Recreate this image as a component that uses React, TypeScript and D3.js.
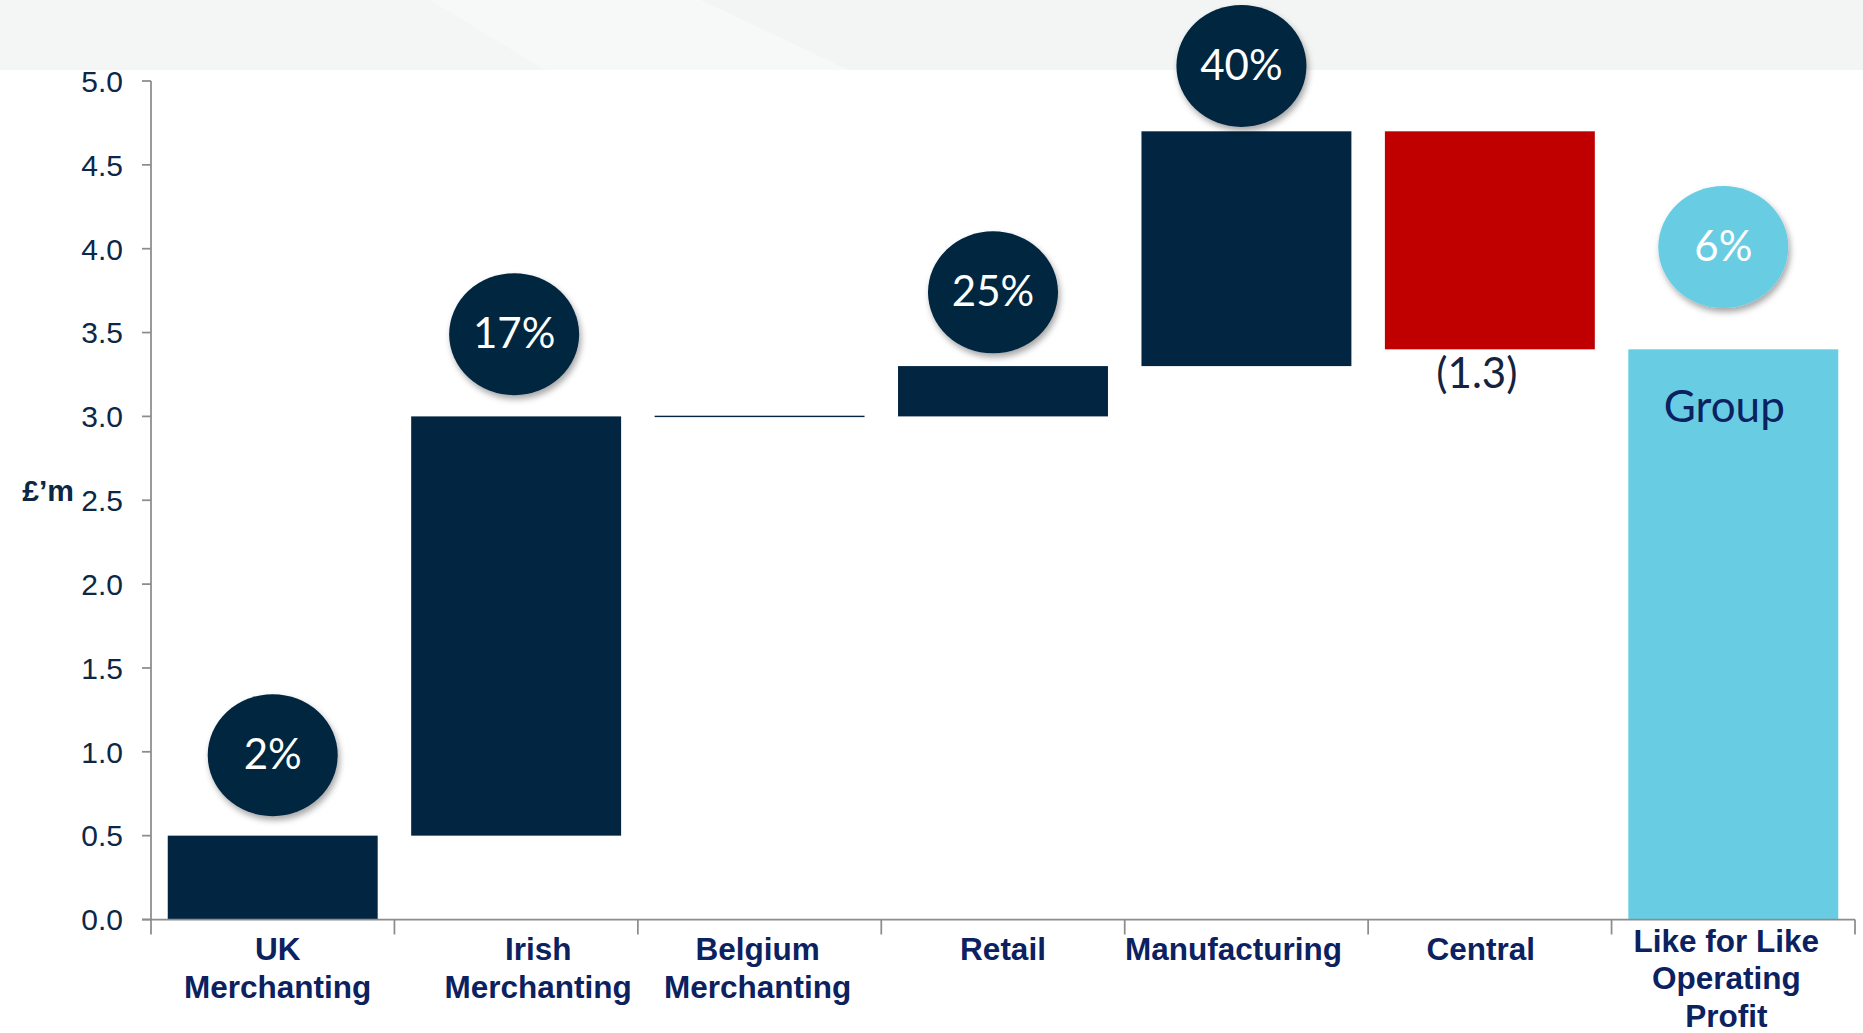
import React from "react";
import * as d3 from "d3";

// Operating profit bridge: segment contributions to like-for-like growth
const categories = [
  "UK Merchanting",
  "Irish Merchanting",
  "Belgium Merchanting",
  "Retail",
  "Manufacturing",
  "Central",
  "Like for Like Operating Profit",
];
const categoryLines = [
  ["UK", "Merchanting"],
  ["Irish", "Merchanting"],
  ["Belgium", "Merchanting"],
  ["Retail"],
  ["Manufacturing"],
  ["Central"],
  ["Like for Like", "Operating", "Profit"],
];
// £'m change per segment; the last category is the resulting total
const changes = [0.5, 2.5, 0.0, 0.3, 1.4, -1.3];
const growthLabels = ["2%", "17%", "", "25%", "40%", "", "6%"];
// level (in £'m) at which each growth badge sits
const badgeLevels = [0.98, 3.49, NaN, 3.74, 5.09, NaN, 4.01];
const yTicks = [0, 0.5, 1, 1.5, 2, 2.5, 3, 3.5, 4, 4.5, 5];
const totalName = "Group";
const yAxisTitle = "£’m";

const W = 1863;
const H = 1033;
const NAVY = "#022541";
const RED = "#c00000";
const SKY = "#68cde3";
const LABEL_BLUE = "#0c2160";
const TICK_TEXT = "#0d2747";
const AXIS = "#8c8c8c";
const ARIAL = "'Liberation Sans', Arial, sans-serif";
const HUMANIST = "Lato, 'Open Sans', sans-serif";

// small horizontal nudges of the text boxes relative to each category centre
const labelNudge = [5, 22, -2, 0, -13, -9, -7];
const badgeNudge = [0, -2, 0, -10, -5, 0, -10];

type Step = { name: string; start: number; end: number; kind: "up" | "down" | "total" };

export default function App() {
  const y = d3.scaleLinear().domain([0, 5]).range([919.5, 81]);
  const x = d3
    .scaleBand<string>()
    .domain(categories)
    .range([151, 1855])
    .paddingInner(0.1376)
    .paddingOuter(0.0688);

  const steps: Step[] = [];
  let run = 0;
  changes.forEach((c, i) => {
    steps.push({ name: categories[i], start: run, end: run + c, kind: c < 0 ? "down" : "up" });
    run += c;
  });
  steps.push({ name: categories[categories.length - 1], start: 0, end: run, kind: "total" });

  const fillFor = (k: Step["kind"]) => (k === "down" ? RED : k === "total" ? SKY : NAVY);
  const [x0, x1] = x.range();
  const step = x.step();
  const baseY = y(0);
  const mid = (name: string) => (x(name) ?? 0) + x.bandwidth() / 2;

  return (
    <svg
      width={W}
      height={H}
      viewBox={`0 0 ${W} ${H}`}
      style={{ position: "absolute", left: 0, top: 0, display: "block", background: "#fff" }}
    >
      <defs>
        <filter id="badgeShadow" x="-30%" y="-30%" width="160%" height="170%">
          <feDropShadow dx="2" dy="4" stdDeviation="3" floodColor="#000" floodOpacity="0.35" />
        </filter>
      </defs>

      {/* header band */}
      <rect x={0} y={0} width={W} height={70} fill="#f4f5f5" />
      <polygon points="430,0 545,70 849,70 701,0" fill="#f7f8f8" />
      <polygon points={`701,0 849,70 ${W},70 ${W},0`} fill="#f3f4f4" />

      {/* y axis */}
      <line x1={x0} x2={x0} y1={y(5)} y2={baseY} stroke={AXIS} strokeWidth={1.75} />
      {yTicks.map((t) => (
        <g key={t}>
          <line x1={x0 - 9} x2={x0} y1={y(t)} y2={y(t)} stroke={AXIS} strokeWidth={1.75} />
          <text
            x={123}
            y={y(t)}
            dy="0.36em"
            textAnchor="end"
            fontFamily={ARIAL}
            fontSize={30}
            fill={TICK_TEXT}
          >
            {t.toFixed(1)}
          </text>
        </g>
      ))}
      <text x={74} y={501} textAnchor="end" fontFamily={ARIAL} fontWeight="bold" fontSize={30} fill={TICK_TEXT}>
        {yAxisTitle}
      </text>

      {/* bars */}
      {steps.map((s) => {
        const top = y(Math.max(s.start, s.end));
        const bottom = y(Math.min(s.start, s.end));
        const flat = bottom - top < 1.4;
        return (
          <rect
            key={s.name}
            x={x(s.name)}
            y={flat ? top - 0.7 : top}
            width={x.bandwidth()}
            height={flat ? 1.4 : bottom - top}
            fill={fillFor(s.kind)}
          />
        );
      })}

      {/* x axis */}
      <line x1={x0 - 9} x2={x1} y1={baseY} y2={baseY} stroke={AXIS} strokeWidth={1.75} />
      {d3.range(categories.length + 1).map((i) => (
        <line
          key={i}
          x1={x0 + i * step}
          x2={x0 + i * step}
          y1={baseY}
          y2={baseY + 15}
          stroke={AXIS}
          strokeWidth={1.75}
        />
      ))}
      {categoryLines.map((lines, i) => {
        const cx = mid(categories[i]) + labelNudge[i];
        const first = lines.length > 2 ? 952 : 960;
        const lead = lines.length > 2 ? 37.4 : 38.3;
        return (
          <text
            key={i}
            textAnchor="middle"
            fontFamily={ARIAL}
            fontWeight="bold"
            fontSize={31.5}
            fill={LABEL_BLUE}
          >
            {lines.map((ln, j) => (
              <tspan key={j} x={cx} y={first + j * lead}>
                {ln}
              </tspan>
            ))}
          </text>
        );
      })}

      {/* value annotations */}
      {steps.map((s) =>
        s.kind === "down" ? (
          <text
            key={"v" + s.name}
            x={mid(s.name) - 13}
            y={y(s.end) + 39}
            textAnchor="middle"
            fontFamily={HUMANIST}
            fontSize={42}
            fill="#14233f"
          >
            ({Math.abs(s.end - s.start).toFixed(1)})
          </text>
        ) : null
      )}
      {steps
        .filter((s) => s.kind === "total")
        .map((s) => (
          <text
            key="total-name"
            x={mid(s.name) - 9}
            y={y(s.end) + 73}
            textAnchor="middle"
            fontFamily={HUMANIST}
            fontSize={44}
            fill={LABEL_BLUE}
          >
            {totalName}
          </text>
        ))}

      {/* growth badges */}
      {growthLabels.map((g, i) => {
        if (!g) return null;
        const cx = mid(categories[i]) + badgeNudge[i];
        const cy = y(badgeLevels[i]);
        const isTotal = i === categories.length - 1;
        return (
          <g key={"b" + i}>
            <ellipse cx={cx} cy={cy} rx={65} ry={61} fill={isTotal ? SKY : NAVY} filter="url(#badgeShadow)" />
            <text
              x={cx}
              y={cy + 14}
              textAnchor="middle"
              fontFamily={HUMANIST}
              fontSize={42}
              fill="#ffffff"
            >
              {g}
            </text>
          </g>
        );
      })}
    </svg>
  );
}
